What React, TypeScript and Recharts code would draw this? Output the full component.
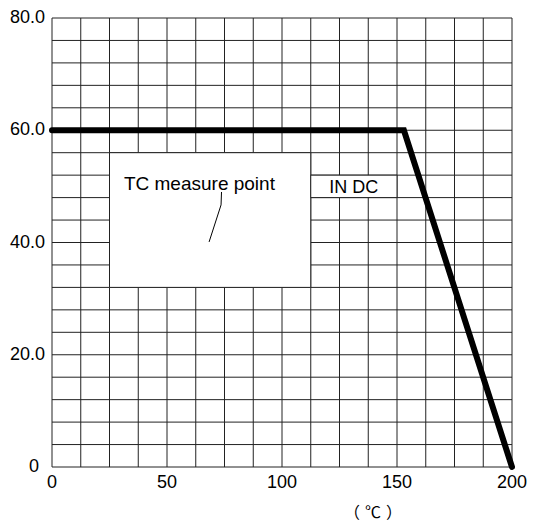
import React from "react";
import {
  LineChart,
  Line,
  XAxis,
  YAxis,
  CartesianGrid,
  ReferenceArea,
  ReferenceDot,
  ReferenceLine,
} from "recharts";

// derating curve: temperature (℃) vs value
const curveTemp = [0, 153, 200];
const curveValue = [60, 60, 0];

// grid divisions and labelled ticks
const gridX = [0, 12.5, 25, 37.5, 50, 62.5, 75, 87.5, 100, 112.5, 125, 137.5, 150, 162.5, 175, 187.5, 200];
const gridY = [0, 4, 8, 12, 16, 20, 24, 28, 32, 36, 40, 44, 48, 52, 56, 60, 64, 68, 72, 76, 80];
const xLabels = [0, 50, 100, 150, 200];
const yLabels: Record<number, string> = { 0: "0", 20: "20.0", 40: "40.0", 60: "60.0", 80: "80.0" };

// leader line from the "TC measure point" note
const leaderX = [73.7, 73.5, 68.3];
const leaderY = [49, 46.7, 40.1];

const data = curveTemp.map((t, i) => ({ t, v: curveValue[i] }));

const FONT = "'Liberation Sans', Arial, sans-serif";

function YTick(props: any) {
  const { x, y, payload } = props;
  const label = yLabels[payload.value];
  if (label === undefined) return null;
  const shift = payload.value === 0 ? 6 : 0;
  return (
    <text x={x + 1 - shift} y={y - 1} textAnchor="end" dominantBaseline="central" fontSize={18} fontFamily={FONT} fill="#000">
      {label}
    </text>
  );
}

export default function App() {
  return (
    <div style={{ position: "absolute", left: 0, top: 0, width: 540, height: 527, background: "#fff" }}>
      <LineChart width={540} height={527} data={data} margin={{ top: 18, right: 28, bottom: 0, left: 0 }}>
        <CartesianGrid stroke="#222" strokeWidth={1} />
        <XAxis
          dataKey="t"
          type="number"
          domain={[0, 200]}
          ticks={gridX}
          interval={0}
          height={60}
          axisLine={false}
          tickLine={false}
          tickFormatter={(v: number) => (xLabels.includes(v) ? String(v) : "")}
          tick={{ fontSize: 18, fontFamily: FONT, fill: "#000" }}
        />
        <YAxis
          type="number"
          domain={[0, 80]}
          ticks={gridY}
          interval={0}
          width={52}
          axisLine={false}
          tickLine={false}
          tick={<YTick />}
        />
        <ReferenceArea x1={25} x2={112.5} y1={32} y2={56} fill="#fff" fillOpacity={1} stroke="#222" strokeWidth={1} />
        <ReferenceArea x1={112.5} x2={150} y1={48} y2={52} fill="#fff" fillOpacity={1} stroke="#222" strokeWidth={1} />
        <ReferenceDot
          x={64.1}
          y={50.6}
          r={0}
          fill="none"
          stroke="none"
          label={{ value: "TC measure point", position: "center", fontSize: 19, fontFamily: FONT, fill: "#000" }}
        />
        <ReferenceDot
          x={131.2}
          y={50}
          r={0}
          fill="none"
          stroke="none"
          label={{ value: "IN DC", position: "center", fontSize: 18, fontFamily: FONT, fill: "#000" }}
        />
        {leaderX.slice(1).map((lx, i) => (
          <ReferenceLine
            key={i}
            segment={[
              { x: leaderX[i], y: leaderY[i] },
              { x: lx, y: leaderY[i + 1] },
            ]}
            stroke="#000"
            strokeWidth={1}
          />
        ))}
        <Line
          dataKey="v"
          stroke="#000"
          strokeWidth={6}
          strokeLinecap="round"
          strokeLinejoin="miter"
          dot={false}
          isAnimationActive={false}
        />
      </LineChart>
      <div
        style={{
          position: "absolute",
          left: 344,
          top: 499,
          fontSize: 16,
          letterSpacing: 5,
          fontFamily: "'Noto Sans CJK SC', sans-serif",
          lineHeight: "24px",
          color: "#000",
        }}
      >
        （℃）
      </div>
    </div>
  );
}
